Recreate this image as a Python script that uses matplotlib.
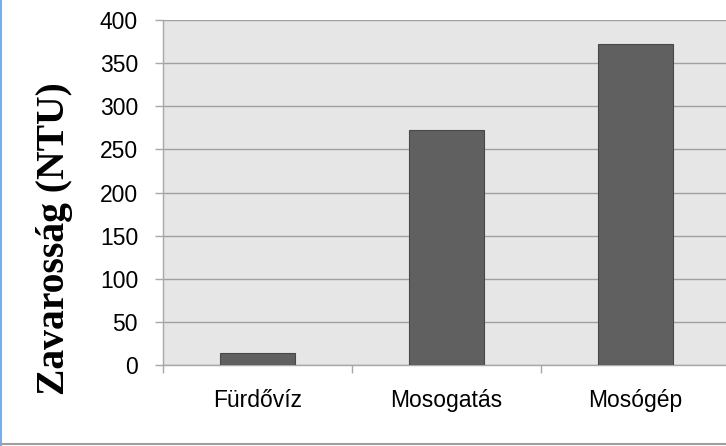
import numpy as np
import matplotlib
matplotlib.use("Agg")
import matplotlib.pyplot as plt
from matplotlib.lines import Line2D

categories = ["Fürdővíz", "Mosogatás", "Mosógép"]
turbidity = [14, 273, 372]
y_ticks = [0, 50, 100, 150, 200, 250, 300, 350, 400]

fig = plt.figure(figsize=(7.26, 4.46), dpi=100)
ax = fig.add_axes([163 / 726, 1 - 365 / 446, (726 - 163) / 726, (365 - 20) / 446])

x = np.arange(len(categories))
ax.bar(x, turbidity, width=0.4, color="#606060", edgecolor="#484848", linewidth=0.8, zorder=3)

ax.set_facecolor("#e6e6e6")
ax.set_xlim(-0.5, 2.48)
ax.set_ylim(0, 400)
ax.set_yticks(y_ticks)
ax.yaxis.grid(True, color="#a0a0a0", linewidth=1.0, zorder=0)

for side in ["top", "right"]:
    ax.spines[side].set_visible(False)
for side in ["left", "bottom"]:
    ax.spines[side].set_color("#a8a8a8")
    ax.spines[side].set_linewidth(1.0)

ax.set_xticks(x)
ax.set_xticklabels(categories)
ax.set_xticks([-0.5, 0.5, 1.5], minor=True)
ax.tick_params(axis="x", which="major", length=0, pad=17)
ax.tick_params(axis="x", which="minor", length=6, color="#a8a8a8", width=1.0)
ax.tick_params(axis="y", length=6, color="#a8a8a8", width=1.0, pad=12)
for lab in ax.get_xticklabels() + ax.get_yticklabels():
    lab.set_fontfamily("Liberation Sans")
    lab.set_fontsize(16.5)

fig.text(55 / 726, 1 - 239 / 446, "Zavarosság (NTU)", rotation=90, ha="center", va="center",
         fontfamily="Liberation Serif", fontweight="bold", fontsize=28.5)

# figure frame
fig.add_artist(Line2D([0.001, 0.001], [0, 1], transform=fig.transFigure, color="#7aaee8", linewidth=1.5))
fig.add_artist(Line2D([0, 1], [2 / 446, 2 / 446], transform=fig.transFigure, color="#a0a0a0", linewidth=1.5))

fig.savefig("out.png", dpi=100, facecolor="white")
